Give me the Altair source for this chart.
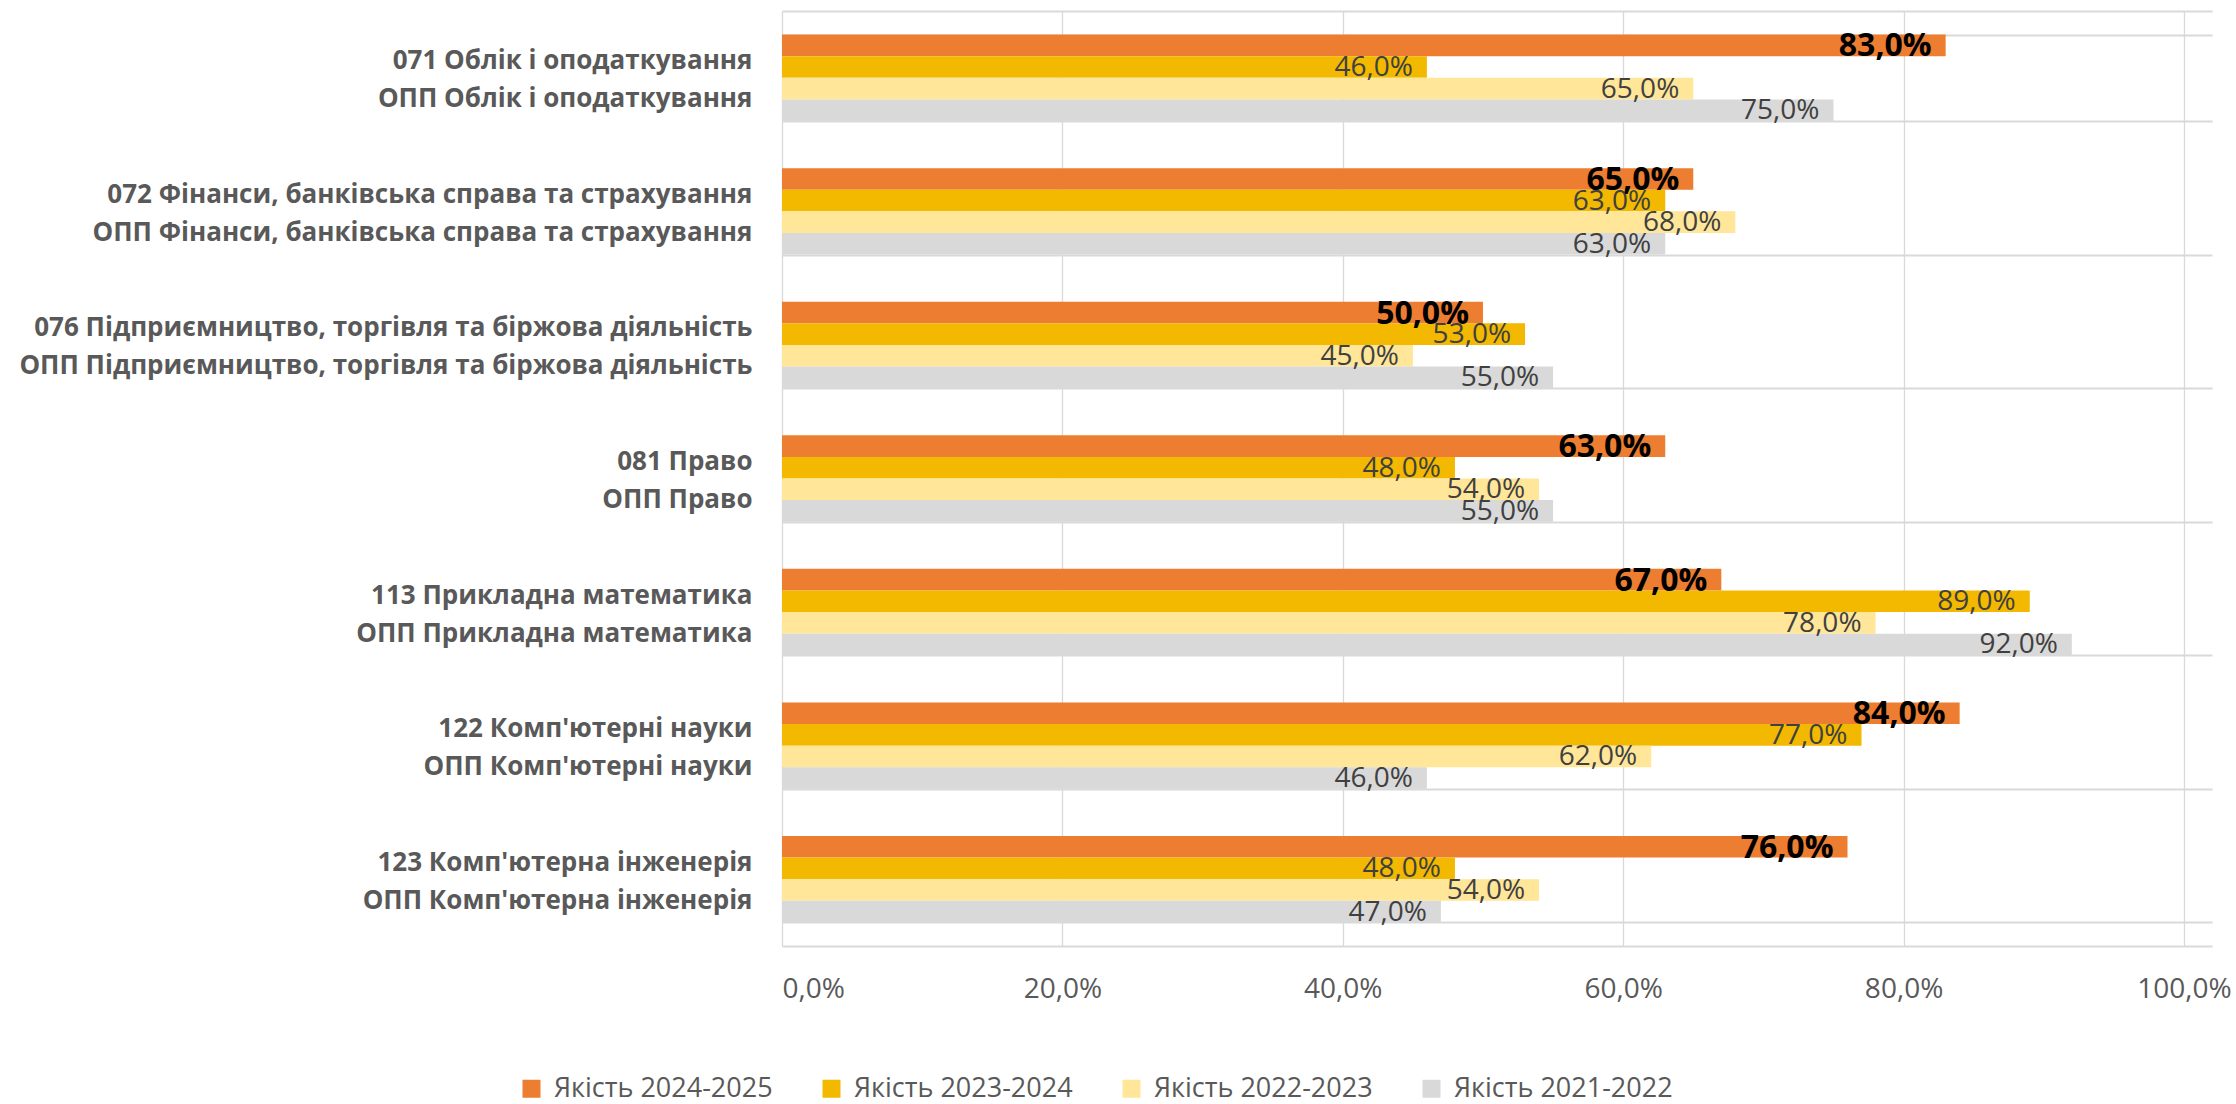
import altair as alt
import pandas as pd

line1 = [
    "071 Облік і оподаткування ",
    "072 Фінанси, банківська справа та страхування ",
    "076 Підприємництво, торгівля та біржова діяльність ",
    "081 Право ",
    "113 Прикладна математика ",
    "122 Комп'ютерні науки ",
    "123 Комп'ютерна інженерія ",
]
line2 = [
    "ОПП Облік і оподаткування",
    "ОПП Фінанси, банківська справа та страхування",
    "ОПП Підприємництво, торгівля та біржова діяльність",
    "ОПП Право",
    "ОПП Прикладна математика",
    "ОПП Комп'ютерні науки",
    "ОПП Комп'ютерна інженерія",
]
series = ["Якість 2024-2025", "Якість 2023-2024", "Якість 2022-2023", "Якість 2021-2022"]
q2024_2025 = [83.0, 65.0, 50.0, 63.0, 67.0, 84.0, 76.0]
q2023_2024 = [46.0, 63.0, 53.0, 48.0, 89.0, 77.0, 48.0]
q2022_2023 = [65.0, 68.0, 45.0, 54.0, 78.0, 62.0, 54.0]
q2021_2022 = [75.0, 63.0, 55.0, 55.0, 92.0, 46.0, 47.0]
colors = ["#ED7D31", "#F2B900", "#FFE699", "#D9D9D9"]
x_ticks = [0, 20, 40, 60, 80, 100]

cats = [a + "|" + b for a, b in zip(line1, line2)]
rows = []
for s, vals in zip(series, [q2024_2025, q2023_2024, q2022_2023, q2021_2022]):
    for c, v in zip(cats, vals):
        rows.append({"cat": c, "series": s, "value": v})
df = pd.DataFrame(rows)

FONT = "Open Sans"

base = alt.Chart(df).transform_calculate(
    lbl="replace(format(datum.value, '.1f'), '.', ',') + '%'"
)

y_enc = alt.Y(
    "cat:N",
    sort=cats,
    scale=alt.Scale(paddingInner=0.353, paddingOuter=0.1765),
    axis=alt.Axis(
        title=None,
        labelExpr="split(datum.label, '|')",
        labelLineHeight=38,
        labelFontSize=26,
        labelFontWeight="bold",
        labelColor="#595959",
        labelFont=FONT,
        labelPadding=30,
        labelOffset=-17,
        labelLimit=900,
        ticks=False,
        domain=False,
        grid=True,
        tickBand="extent",
        gridColor="#D9D9D9",
        gridWidth=2,
    ),
)
yoff = alt.YOffset("series:N", sort=series, scale=alt.Scale(paddingInner=0, paddingOuter=0))
x_scale = alt.Scale(domain=[0, 102], nice=False)
x_enc = alt.X(
    "value:Q",
    scale=x_scale,
    axis=alt.Axis(
        title=None,
        values=x_ticks,
        labelExpr="replace(format(datum.value, '.1f'), '.', ',') + '%'",
        labelFontSize=28,
        labelColor="#595959",
        labelFont=FONT,
        labelPadding=29,
        ticks=False,
        grid=True,
        gridColor="#D9D9D9",
        gridWidth=1.3,
        domainColor="#D9D9D9",
        domainWidth=2,
    ),
)

bars = base.mark_bar().encode(
    x=x_enc,
    y=y_enc,
    yOffset=yoff,
    color=alt.Color(
        "series:N",
        scale=alt.Scale(domain=series, range=colors),
        legend=alt.Legend(
            title=None,
            orient="none",
            direction="horizontal",
            columns=4,
            legendX=-264,
            legendY=1064,
            symbolType="square",
            symbolSize=324,
            symbolStrokeWidth=0,
            labelFontSize=27,
            labelColor="#595959",
            labelFont=FONT,
            labelOffset=9,
            columnPadding=45,
            labelLimit=400,
        ),
    ),
)

labels_main = base.transform_filter(alt.datum.series == series[0]).mark_text(
    align="right", baseline="middle", dx=-14, dy=1, fontSize=32, fontWeight="bold",
    color="#000000", font=FONT,
).encode(
    x=alt.X("value:Q", scale=x_scale, axis=None),
    y=alt.Y("cat:N", sort=cats),
    yOffset=yoff,
    text="lbl:N",
)

labels_other = base.transform_filter(alt.datum.series != series[0]).mark_text(
    align="right", baseline="middle", dx=-14, dy=1, fontSize=28,
    color="#404040", font=FONT,
).encode(
    x=alt.X(
        "value:Q",
        scale=x_scale,
        axis=alt.Axis(
            orient="top", title=None, labels=False, ticks=False, grid=False,
            domainColor="#D9D9D9", domainWidth=2,
        ),
    ),
    y=alt.Y("cat:N", sort=cats),
    yOffset=yoff,
    text="lbl:N",
)

chart = alt.layer(bars, labels_main, labels_other).resolve_axis(x="independent").properties(
    width=1430,
    height=935,
    autosize=alt.AutoSizeParams(type="none"),
    padding={"left": 782, "top": 11, "right": 24, "bottom": 158},
    background="white",
).configure_view(stroke=None)

chart.save("out.html", embed_options={"renderer": "svg", "actions": False})
